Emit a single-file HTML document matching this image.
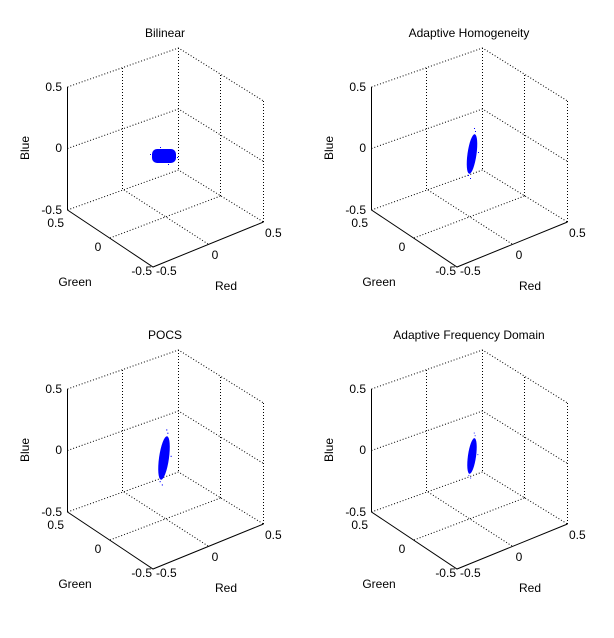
<!DOCTYPE html>
<html><head><style>body{margin:0;background:#fff}svg{display:block}text{font-family:"Liberation Sans",Arial,sans-serif;font-size:12px;fill:#000}</style></head><body>
<svg width="614" height="638" viewBox="0 0 614 638">
<defs>
<g id="ax">
<g stroke="#000" stroke-width="1" fill="none" stroke-dasharray="1,2">
<path d="M67.5,87 L178.5,48 L263.5,101 M178.5,48 V170 M263.5,101 V222 M67.5,210 L178.5,170 L263.5,222"/>
<path d="M67.5,148.5 L178.5,109 L263.5,161.5 M122.5,189 V67 M220.5,196 V74 M110,238 L220.5,196 M208,244 L122.5,189"/>
</g>
<path d="M67.5,87 V210 L153,267 L263.5,222" stroke="#000" fill="none"/>
<text x="62" y="91" text-anchor="end">0.5</text>
<text x="62" y="152" text-anchor="end">0</text>
<text x="62" y="214" text-anchor="end">-0.5</text>
<text x="64" y="227" text-anchor="end">0.5</text>
<text x="98" y="251" text-anchor="middle">0</text>
<text x="152" y="275" text-anchor="end">-0.5</text>
<text x="156" y="275">-0.5</text>
<text x="215" y="259" text-anchor="middle">0</text>
<text x="265" y="237">0.5</text>
<text x="75" y="286" text-anchor="middle">Green</text>
<text x="226" y="290" text-anchor="middle">Red</text>
<text transform="translate(29,148) rotate(-90)" text-anchor="middle">Blue</text>
</g>
<g id="strip"><ellipse cx="0" cy="0" rx="4.5" ry="20" transform="rotate(8)" fill="#00f"/><g fill="#00f"><rect x="2" y="-26" width="1" height="1"/><rect x="3" y="-23" width="1" height="1"/><rect x="-5" y="6" width="1" height="1"/><rect x="6" y="-2" width="1" height="1"/><rect x="-2" y="24" width="1" height="1"/><rect x="-4" y="21" width="1" height="1"/></g></g>
</defs>
<use href="#ax"/>
<use href="#ax" transform="translate(304,0)"/>
<use href="#ax" transform="translate(0,302)"/>
<use href="#ax" transform="translate(304,302)"/>
<text x="165" y="37" text-anchor="middle">Bilinear</text>
<text x="469" y="37" text-anchor="middle">Adaptive Homogeneity</text>
<text x="165" y="339" text-anchor="middle">POCS</text>
<text x="469" y="339" text-anchor="middle">Adaptive Frequency Domain</text>
<rect x="152" y="149" width="24" height="14" rx="5" fill="#00f"/>
<g fill="#00f"><rect x="150" y="154" width="1" height="1"/><rect x="177" y="157" width="1" height="1"/><rect x="160" y="147" width="1" height="1"/><rect x="168" y="164" width="1" height="1"/></g>
<use href="#strip" transform="translate(472,154)"/>
<use href="#strip" transform="translate(164,458) scale(1.1)"/>
<use href="#strip" transform="translate(472,456) scale(0.9)"/>
</svg>
</body></html>
